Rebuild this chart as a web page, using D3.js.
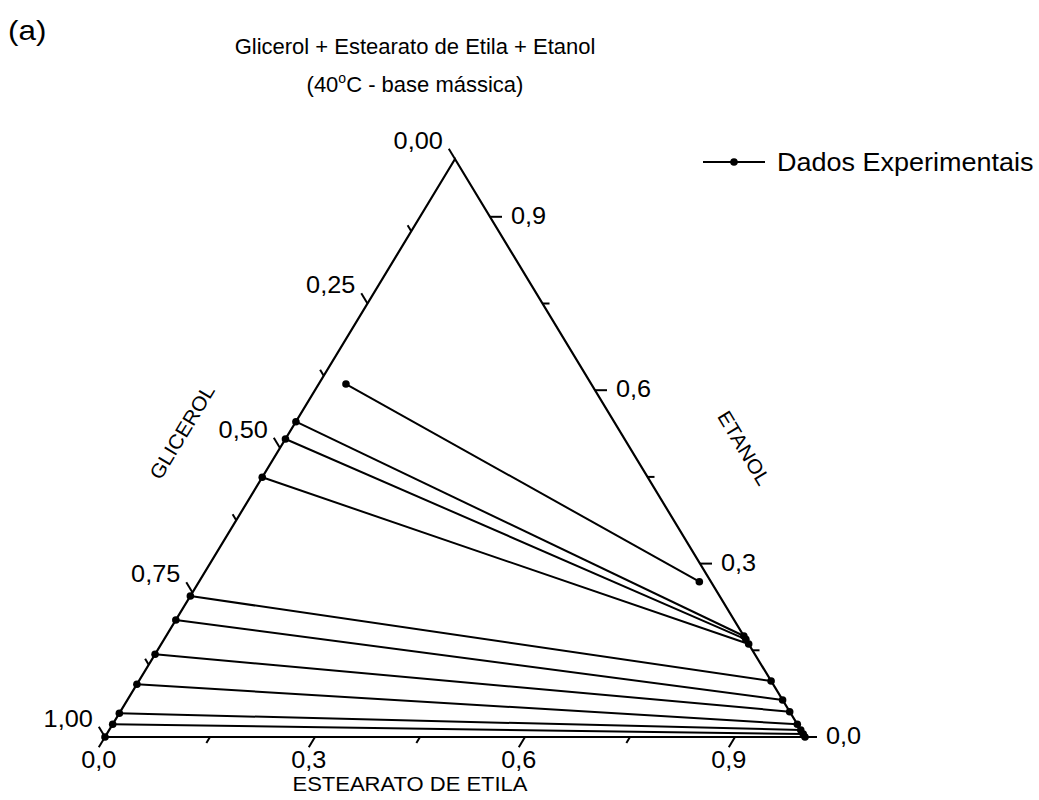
<!DOCTYPE html>
<html>
<head>
<meta charset="utf-8">
<script src="https://cdn.jsdelivr.net/npm/d3@7"></script>
<style>
  body { margin: 0; background: #fff; }
  text { font-family: "Liberation Sans", Arial, Helvetica, sans-serif; fill: #000; }
</style>
</head>
<body>
<svg id="chart" width="1039" height="800"></svg>
<script>
// Tie lines, mass fractions at 40 °C.
// Glycerol-rich phase (left end of each tie line)
const pesadaGlicerol  = [0.3504, 0.4545, 0.4844, 0.5507, 0.7561, 0.7976, 0.8569, 0.9088, 0.9590, 0.9780, 1.0000];
const pesadaEstearato = [0.0389, 0.0000, 0.0000, 0.0000, 0.0000, 0.0000, 0.0000, 0.0000, 0.0000, 0.0000, 0.0000];
const pesadaEtanol    = [0.6107, 0.5455, 0.5156, 0.4493, 0.2439, 0.2024, 0.1431, 0.0912, 0.0410, 0.0220, 0.0000];
// Ester-rich phase (right end of each tie line)
const leveGlicerol    = [0.0166, 0.0000, 0.0000, 0.0000, 0.0000, 0.0000, 0.0000, 0.0000, 0.0000, 0.0000, 0.0000];
const leveEstearato   = [0.7147, 0.8253, 0.8310, 0.8391, 0.9031, 0.9360, 0.9562, 0.9780, 0.9879, 0.9950, 1.0000];
const leveEtanol      = [0.2687, 0.1747, 0.1690, 0.1609, 0.0969, 0.0640, 0.0438, 0.0220, 0.0121, 0.0050, 0.0000];

// Axis ticks
const estearatoMajor  = [0, 0.3, 0.6, 0.9];
const estearatoLabels = ["0,0", "0,3", "0,6", "0,9"];
const estearatoMinor  = [0.15, 0.45, 0.75];
const etanolMajor     = [0, 0.3, 0.6, 0.9];
const etanolLabels    = ["0,0", "0,3", "0,6", "0,9"];
const etanolMinor     = [0.15, 0.45, 0.75];
const glicerolMajor   = [0, 0.25, 0.5, 0.75, 1];
const glicerolLabels  = ["0,00", "0,25", "0,50", "0,75", "1,00"];
const glicerolMinor   = [0.125, 0.375, 0.625, 0.875];

const svg = d3.select("#chart");

// Ternary frame: x runs with estearato + etanol/2, y with etanol
const xs = d3.scaleLinear().domain([0, 1]).range([105, 805]);
const ys = d3.scaleLinear().domain([0, 1]).range([737, 159]);
const pos = (s, e) => [xs(s + e / 2), ys(e)];

function label(x, y, str, size, anchor, rot, sx) {
  return svg.append("text")
    .attr("transform", `translate(${x},${y}) rotate(${rot || 0}) scale(${sx || 1},1)`)
    .attr("text-anchor", anchor || "start")
    .style("font-size", size + "px")
    .text(str);
}

// Triangle outline
const corners = [pos(0, 0), pos(1, 0), pos(0, 1)];
svg.append("path")
  .attr("d", d3.line()(corners) + "Z")
  .attr("fill", "none").attr("stroke", "#000").attr("stroke-width", 2.2)
  .attr("stroke-linejoin", "miter");

// Tick helper: offset a point along a grid direction, fixed pixel length
function tickEnd(p, q, len) {
  const dx = q[0] - p[0], dy = q[1] - p[1];
  const n = Math.hypot(dx, dy);
  return [p[0] + dx / n * len, p[1] + dy / n * len];
}
const d = 0.05;
const MAJ = 12, MIN = 7;
const TS = 23, TSX = 1.1; // tick label size and widening
const ticks = svg.append("g").attr("stroke", "#000").attr("stroke-width", 2);

function drawTick(p, q, len) {
  const e = tickEnd(p, q, len);
  ticks.append("line").attr("x1", p[0]).attr("y1", p[1]).attr("x2", e[0]).attr("y2", e[1]);
  return e;
}

// Bottom axis (estearato): ticks along lines of constant estearato
estearatoMajor.forEach((v, i) => {
  const e = drawTick(pos(v, 0), pos(v, -d), MAJ);
  label(e[0], e[1] + 21, estearatoLabels[i], TS, "middle", 0, TSX);
});
estearatoMinor.forEach(v => drawTick(pos(v, 0), pos(v, -d), MIN));

// Right axis (etanol): horizontal ticks
etanolMajor.forEach((v, i) => {
  const e = drawTick(pos(1 - v, v), pos(1 - v + d, v), MAJ);
  label(e[0] + 9, e[1] + 7, etanolLabels[i], TS, "start", 0, TSX);
});
etanolMinor.forEach(v => drawTick(pos(1 - v, v), pos(1 - v + d, v), MIN));

// Left axis (glicerol): ticks along lines of constant glicerol
glicerolMajor.forEach((v, i) => {
  const e = drawTick(pos(0, 1 - v), pos(-d, 1 - v + d), MAJ);
  label(e[0] - 6, e[1], glicerolLabels[i], TS, "end", 0, TSX);
});
glicerolMinor.forEach(v => drawTick(pos(0, 1 - v), pos(-d, 1 - v + d), MIN));

// Tie lines
const ties = pesadaGlicerol.map((g, i) => ({
  a: pos(pesadaEstearato[i], pesadaEtanol[i]),
  b: pos(leveEstearato[i], leveEtanol[i])
}));
const gTies = svg.append("g");
gTies.selectAll("line").data(ties).join("line")
  .attr("x1", t => t.a[0]).attr("y1", t => t.a[1])
  .attr("x2", t => t.b[0]).attr("y2", t => t.b[1])
  .attr("stroke", "#000").attr("stroke-width", 2);
const pts = ties.flatMap(t => [t.a, t.b]);
gTies.selectAll("circle").data(pts).join("circle")
  .attr("cx", p => p[0]).attr("cy", p => p[1]).attr("r", 3.8).attr("fill", "#000");

// Axis titles
const angL = Math.atan2(corners[2][1] - corners[0][1], corners[2][0] - corners[0][0]) * 180 / Math.PI;
const angR = Math.atan2(corners[1][1] - corners[2][1], corners[1][0] - corners[2][0]) * 180 / Math.PI;
label(182, 432, "GLICEROL", 20, "middle", angL, 1.05).attr("dy", 7);
label(744, 448, "ETANOL", 20, "middle", angR, 1.05).attr("dy", 7);
label(410, 791, "ESTEARATO DE ETILA", 20, "middle", 0, 1.1);

// Title
label(8, 40, "(a)", 28, "start", 0, 1.12);
label(415, 54, "Glicerol + Estearato de Etila + Etanol", 22, "middle");
const t2 = label(415, 92, "", 22, "middle");
t2.append("tspan").text("(40");
t2.append("tspan").attr("dy", -9).style("font-size", "14px").text("o");
t2.append("tspan").attr("dy", 9).text("C - base mássica)");

// Legend
const lg = svg.append("g");
lg.append("line").attr("x1", 703).attr("x2", 765).attr("y1", 162).attr("y2", 162)
  .attr("stroke", "#000").attr("stroke-width", 2);
lg.append("circle").attr("cx", 734).attr("cy", 162).attr("r", 3.8).attr("fill", "#000");
label(777, 171, "Dados Experimentais", 25, "start", 0, 1.08);
</script>
</body>
</html>
